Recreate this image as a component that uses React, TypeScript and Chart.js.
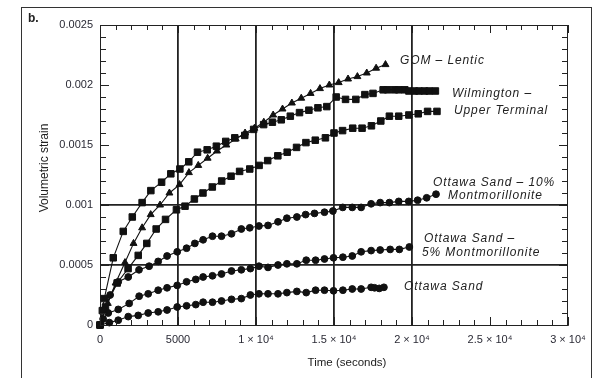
import React, { useEffect, useRef } from "react";
import { Chart, registerables } from "chart.js";

Chart.register(...registerables);

// ---- data (time in seconds, volumetric strain) ----
const gomTime = [0, 500, 1000, 1600, 2150, 2700, 3250, 3850, 4450, 5100, 5700, 6300, 6900, 7500, 8100, 8700, 9300, 9900, 10500, 11100, 11700, 12300, 12900, 13500, 14100, 14700, 15300, 15900, 16500, 17100, 17700, 18300];
const gomStrain = [0, 0.00018, 0.00035, 0.00052, 0.00068, 0.00081, 0.00092, 0.001, 0.0011, 0.00117, 0.00127, 0.00133, 0.00139, 0.00145, 0.0015, 0.00155, 0.0016, 0.00164, 0.00169, 0.00175, 0.0018, 0.00185, 0.00189, 0.00193, 0.00197, 0.002, 0.00202, 0.00205, 0.00207, 0.0021, 0.00214, 0.00217];

const wilmTime = [0, 150, 275, 850, 1490, 2070, 2700, 3260, 3950, 4540, 5120, 5690, 6250, 6870, 7460, 8060, 8640, 9280, 9850, 10490, 11050, 11620, 12200, 12790, 13390, 13970, 14540, 15140, 15740, 16400, 16980, 17500, 18150, 18440, 18870, 19150, 19540, 19800, 20150, 20450, 20800, 21100, 21500];
const wilmStrain = [0, 0.00012, 0.00022, 0.00056, 0.00078, 0.0009, 0.00102, 0.00112, 0.00119, 0.00126, 0.0013, 0.00136, 0.00144, 0.00146, 0.00149, 0.00153, 0.00156, 0.00158, 0.00163, 0.00167, 0.00169, 0.00171, 0.00174, 0.00177, 0.00179, 0.00181, 0.00182, 0.0019, 0.00188, 0.00188, 0.00192, 0.00193, 0.00196, 0.00196, 0.00196, 0.00196, 0.00196, 0.00195, 0.00195, 0.00195, 0.00195, 0.00195, 0.00195];

const upperTime = [0, 350, 1100, 1800, 2450, 3000, 3600, 4200, 4900, 5450, 6050, 6600, 7200, 7800, 8400, 8950, 9600, 10200, 10750, 11400, 12000, 12600, 13200, 13800, 14450, 15000, 15550, 16200, 16800, 17400, 18000, 18550, 19150, 19800, 20400, 21000, 21600];
const upperStrain = [0, 0.00015, 0.00035, 0.00047, 0.00058, 0.00068, 0.0008, 0.00088, 0.00096, 0.00099, 0.00105, 0.0011, 0.00115, 0.0012, 0.00124, 0.00128, 0.0013, 0.00133, 0.00137, 0.00141, 0.00144, 0.00148, 0.00152, 0.00154, 0.00156, 0.0016, 0.00162, 0.00164, 0.00164, 0.00166, 0.0017, 0.00174, 0.00174, 0.00175, 0.00176, 0.00178, 0.00178];

const mont10Time = [0, 300, 650, 1170, 1810, 2500, 3150, 3730, 4300, 4950, 5550, 6080, 6610, 7210, 7790, 8430, 9060, 9600, 10190, 10770, 11410, 11980, 12620, 13180, 13750, 14390, 14930, 15560, 16170, 16740, 17380, 17960, 18550, 19150, 19790, 20360, 20940, 21540];
const mont10Strain = [0, 0.00013, 0.00025, 0.00036, 0.0004, 0.00046, 0.00049, 0.00053, 0.000575, 0.00061, 0.00064, 0.00068, 0.00071, 0.00074, 0.00074, 0.00076, 0.0008, 0.00081, 0.000825, 0.00083, 0.00086, 0.00089, 0.0009, 0.00092, 0.00093, 0.00094, 0.00095, 0.00098, 0.00098, 0.00098, 0.00101, 0.00102, 0.00102, 0.00103, 0.00103, 0.00104, 0.00106, 0.00109];

const mont5Time = [0, 200, 530, 1170, 1870, 2510, 3090, 3730, 4300, 4950, 5550, 6140, 6610, 7210, 7790, 8430, 9060, 9640, 10190, 10770, 11410, 11980, 12620, 13220, 13820, 14390, 14970, 15570, 16170, 16740, 17380, 17960, 18600, 19190, 19830];
const mont5Strain = [0, 0.00005, 0.0001, 0.00013, 0.00018, 0.00024, 0.00026, 0.00029, 0.00031, 0.00033, 0.00036, 0.00038, 0.0004, 0.00041, 0.000425, 0.00045, 0.00046, 0.00047, 0.00049, 0.00048, 0.0005, 0.00051, 0.00051, 0.00054, 0.00054, 0.00055, 0.00056, 0.000565, 0.000575, 0.00061, 0.00062, 0.000625, 0.00063, 0.00063, 0.00065];

const sandTime = [0, 600, 1170, 1810, 2450, 3090, 3730, 4300, 4950, 5550, 6140, 6610, 7210, 7790, 8430, 9060, 9640, 10190, 10770, 11410, 11980, 12620, 13220, 13820, 14390, 14970, 15570, 16170, 16740, 17380, 17600, 17900, 18200];
const sandStrain = [0, 0.00002, 0.00004, 0.00007, 0.00008, 0.0001, 0.00011, 0.000125, 0.00015, 0.00016, 0.00017, 0.00019, 0.00019, 0.0002, 0.000214, 0.00022, 0.00025, 0.00026, 0.00026, 0.00026, 0.00027, 0.00028, 0.00027, 0.00029, 0.00029, 0.000285, 0.00029, 0.0003, 0.0003, 0.000314, 0.00031, 0.000305, 0.000314];

const xTickValues = [0, 5000, 10000, 15000, 20000, 25000, 30000];
const xTickLabels = ["0", "5000", "1 × 10⁴", "1.5 × 10⁴", "2 × 10⁴", "2.5 × 10⁴", "3 × 10⁴"];
const yTickValues = [0, 0.0005, 0.001, 0.0015, 0.002, 0.0025];
const yTickLabels = ["0", "0.0005", "0.001", "0.0015", "0.002", "0.0025"];
const xGridValues = [5000, 10000, 15000, 20000];
const yGridValues = [0.0005, 0.001];

// annotation labels anchored at data coordinates (left edge, vertical centre)
const noteTexts = ["GOM – Lentic", "Wilmington –", "Upper Terminal", "Ottawa Sand – 10%", "Montmorillonite", "Ottawa Sand –", "5% Montmorillonite", "Ottawa Sand"];
const noteTime = [19230, 22560, 22690, 21350, 22310, 20770, 20640, 19490];
const noteStrain = [0.0022, 0.001925, 0.00179, 0.00119, 0.001075, 0.000717, 0.0006, 0.000317];

const pts = (t: number[], v: number[]) => t.map((x, i) => ({ x, y: v[i] }));
const near = (a: number, list: number[]) => list.some((b) => Math.abs(a - b) < 1e-9);

const decor = {
  id: "decor",
  afterDraw(chart: any) {
    const { ctx, chartArea: a, scales } = chart;
    const x = scales.x;
    const y = scales.y;
    ctx.save();
    ctx.strokeStyle = "#222";
    ctx.lineWidth = 1;
    ctx.beginPath();
    // top and right plot borders
    ctx.moveTo(a.left, a.top + 0.5);
    ctx.lineTo(a.right, a.top + 0.5);
    ctx.moveTo(a.right - 0.5, a.top);
    ctx.lineTo(a.right - 0.5, a.bottom);
    // inward ticks
    for (let i = 0; i <= 30; i++) {
      const px = Math.round(x.getPixelForValue(i * 1000)) + 0.5;
      const len = i % 5 === 0 ? 8 : 5;
      ctx.moveTo(px, a.bottom);
      ctx.lineTo(px, a.bottom - len);
      ctx.moveTo(px, a.top);
      ctx.lineTo(px, a.top + len);
    }
    for (let i = 0; i <= 25; i++) {
      const py = Math.round(y.getPixelForValue(i * 0.0001)) + 0.5;
      const len = i % 5 === 0 ? 9 : 6;
      ctx.moveTo(a.left, py);
      ctx.lineTo(a.left + len, py);
      ctx.moveTo(a.right, py);
      ctx.lineTo(a.right - len, py);
    }
    ctx.stroke();
    // outer frame
    ctx.strokeStyle = "#333";
    ctx.strokeRect(21.5, 7.5, 570, 420);

    // annotations
    ctx.fillStyle = "#222";
    ctx.font = "italic 12px 'Liberation Sans', Arial, sans-serif";
    (ctx as any).letterSpacing = "0.9px";
    ctx.textBaseline = "middle";
    ctx.textAlign = "left";
    noteTexts.forEach((t, i) => {
      ctx.fillText(t, x.getPixelForValue(noteTime[i]), y.getPixelForValue(noteStrain[i]));
    });
    (ctx as any).letterSpacing = "0px";

    // panel label and axis titles
    ctx.font = "bold 12px 'Liberation Sans', Arial, sans-serif";
    ctx.fillText("b.", 28, 19);
    ctx.font = "11.5px 'Liberation Sans', Arial, sans-serif";
    ctx.textAlign = "center";
    ctx.fillText("Time (seconds)", 347, 363);
    ctx.translate(45, 168);
    ctx.rotate(-Math.PI / 2);
    ctx.font = "12px 'Liberation Sans', Arial, sans-serif";
    ctx.fillText("Volumetric strain", 0, 0);
    ctx.restore();
  },
};

const mk = (label: string, t: number[], v: number[], style: string, r: number) => ({
  label,
  data: pts(t, v),
  borderColor: "#111",
  backgroundColor: "#111",
  borderWidth: 1.1,
  pointStyle: style,
  pointRadius: r,
  pointBorderWidth: 1,
  pointBackgroundColor: "#111",
  pointBorderColor: "#111",
  tension: 0,
  clip: 8,
});

export default function App() {
  const ref = useRef<HTMLCanvasElement | null>(null);
  useEffect(() => {
    document.body.style.margin = "0";
    const chart = new Chart(ref.current as HTMLCanvasElement, {
      type: "line",
      data: {
        datasets: [
          mk("GOM – Lentic", gomTime, gomStrain, "triangle", 4),
          mk("Wilmington", wilmTime, wilmStrain, "rect", 4.6),
          mk("Upper Terminal", upperTime, upperStrain, "rect", 4.6),
          mk("Ottawa Sand – 10% Montmorillonite", mont10Time, mont10Strain, "circle", 3.4),
          mk("Ottawa Sand – 5% Montmorillonite", mont5Time, mont5Strain, "circle", 3.4),
          mk("Ottawa Sand", sandTime, sandStrain, "circle", 3.4),
        ] as any,
      },
      options: {
        animation: false,
        responsive: false,
        layout: { padding: { left: 0, top: 25, right: 30, bottom: 0 } },
        plugins: { legend: { display: false }, tooltip: { enabled: false } },
        scales: {
          x: {
            type: "linear",
            min: 0,
            max: 30000,
            afterFit: (s: any) => {
              s.height = 53;
            },
            afterBuildTicks: (s: any) => {
              s.ticks = xTickValues.map((value) => ({ value }));
            },
            ticks: {
              padding: 8,
              color: "#2a2a35",
              font: { family: "'Liberation Sans', Arial, sans-serif", size: 11 },
              maxRotation: 0,
              callback: (v: any) => xTickLabels[xTickValues.indexOf(Number(v))] ?? "",
            },
            grid: {
              drawTicks: false,
              lineWidth: 1.8,
              color: (c: any) => (c.tick && near(c.tick.value, xGridValues) ? "#222" : "rgba(0,0,0,0)"),
            },
            border: { color: "#222", width: 1 },
          },
          y: {
            type: "linear",
            min: 0,
            max: 0.0025,
            afterFit: (s: any) => {
              s.width = 100;
            },
            afterBuildTicks: (s: any) => {
              s.ticks = yTickValues.map((value) => ({ value }));
            },
            ticks: {
              padding: 7,
              color: "#2a2a35",
              font: { family: "'Liberation Sans', Arial, sans-serif", size: 11 },
              callback: (v: any) => {
                const i = yTickValues.findIndex((b) => Math.abs(b - Number(v)) < 1e-9);
                return i >= 0 ? yTickLabels[i] : "";
              },
            },
            grid: {
              drawTicks: false,
              lineWidth: 1.8,
              color: (c: any) => (c.tick && near(c.tick.value, yGridValues) ? "#222" : "rgba(0,0,0,0)"),
            },
            border: { color: "#222", width: 1 },
          },
        },
      },
      plugins: [decor],
    });
    return () => chart.destroy();
  }, []);
  return (
    <div style={{ position: "absolute", left: 0, top: 0, width: 598, height: 378, background: "#fff" }}>
      <canvas ref={ref} width={598} height={378} style={{ display: "block" }} />
    </div>
  );
}
